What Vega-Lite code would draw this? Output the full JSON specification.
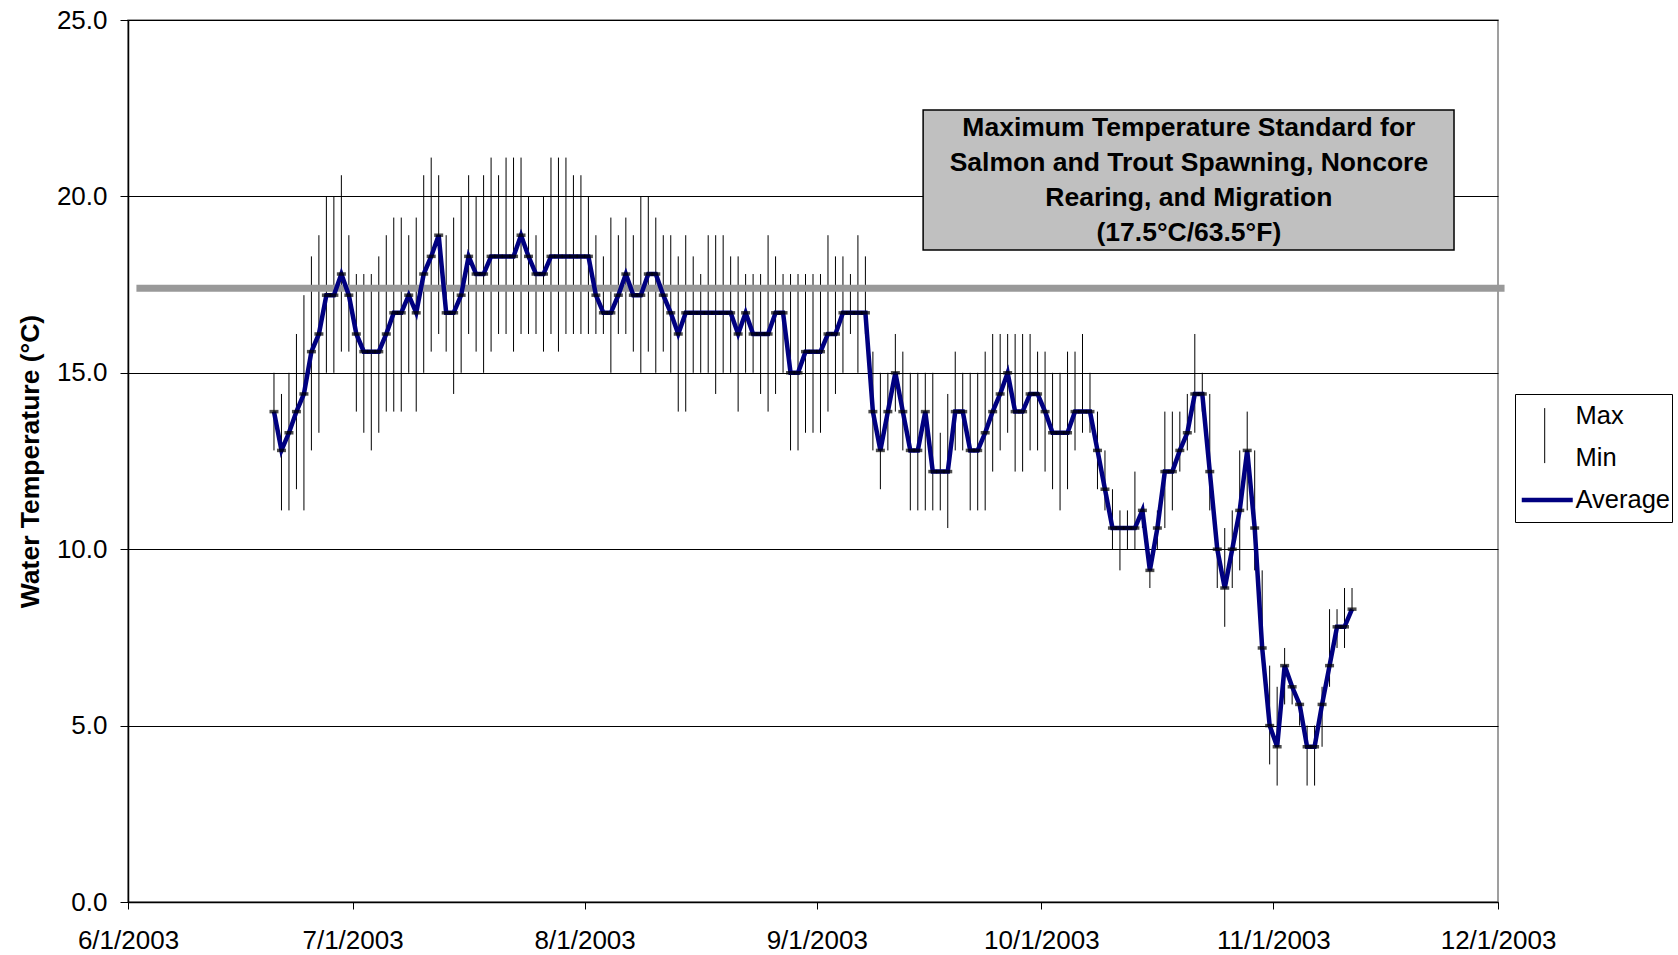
{
  "$schema": "https://vega.github.io/schema/vega-lite/v6.json",
  "width": 1370,
  "height": 882,
  "autosize": {"type": "none"},
  "padding": {"left": 128, "top": 20, "right": 180, "bottom": 53},
  "background": "white",
  "config": {
    "view": {"stroke": "#808080", "strokeWidth": 1.5},
    "font": "Liberation Sans",
    "axis": {
      "labelFont": "Liberation Sans", "labelFontSize": 26, "labelColor": "black",
      "titleFont": "Liberation Sans", "titleColor": "black",
      "tickColor": "black", "domainColor": "black", "domainWidth": 1.5, "tickWidth": 1
    }
  },
  "data": {"values": [
    {"date":"2003/06/20","avg":13.9,"max":15.0,"min":12.8},
    {"date":"2003/06/21","avg":12.8,"max":14.4,"min":11.1},
    {"date":"2003/06/22","avg":13.3,"max":15.0,"min":11.1},
    {"date":"2003/06/23","avg":13.9,"max":16.1,"min":11.7},
    {"date":"2003/06/24","avg":14.4,"max":17.2,"min":11.1},
    {"date":"2003/06/25","avg":15.6,"max":18.3,"min":12.8},
    {"date":"2003/06/26","avg":16.1,"max":18.9,"min":13.3},
    {"date":"2003/06/27","avg":17.2,"max":20.0,"min":15.0},
    {"date":"2003/06/28","avg":17.2,"max":20.0,"min":15.0},
    {"date":"2003/06/29","avg":17.8,"max":20.6,"min":15.6},
    {"date":"2003/06/30","avg":17.2,"max":18.9,"min":15.6},
    {"date":"2003/07/01","avg":16.1,"max":17.8,"min":13.9},
    {"date":"2003/07/02","avg":15.6,"max":17.8,"min":13.3},
    {"date":"2003/07/03","avg":15.6,"max":17.8,"min":12.8},
    {"date":"2003/07/04","avg":15.6,"max":18.3,"min":13.3},
    {"date":"2003/07/05","avg":16.1,"max":18.9,"min":13.9},
    {"date":"2003/07/06","avg":16.7,"max":19.4,"min":13.9},
    {"date":"2003/07/07","avg":16.7,"max":19.4,"min":13.9},
    {"date":"2003/07/08","avg":17.2,"max":18.9,"min":15.0},
    {"date":"2003/07/09","avg":16.7,"max":19.4,"min":13.9},
    {"date":"2003/07/10","avg":17.8,"max":20.6,"min":15.0},
    {"date":"2003/07/11","avg":18.3,"max":21.1,"min":15.6},
    {"date":"2003/07/12","avg":18.9,"max":20.6,"min":16.1},
    {"date":"2003/07/13","avg":16.7,"max":18.9,"min":15.6},
    {"date":"2003/07/14","avg":16.7,"max":19.4,"min":14.4},
    {"date":"2003/07/15","avg":17.2,"max":20.0,"min":15.0},
    {"date":"2003/07/16","avg":18.3,"max":20.6,"min":16.1},
    {"date":"2003/07/17","avg":17.8,"max":20.0,"min":15.6},
    {"date":"2003/07/18","avg":17.8,"max":20.6,"min":15.0},
    {"date":"2003/07/19","avg":18.3,"max":21.1,"min":15.6},
    {"date":"2003/07/20","avg":18.3,"max":20.6,"min":16.1},
    {"date":"2003/07/21","avg":18.3,"max":21.1,"min":16.1},
    {"date":"2003/07/22","avg":18.3,"max":21.1,"min":15.6},
    {"date":"2003/07/23","avg":18.9,"max":21.1,"min":16.1},
    {"date":"2003/07/24","avg":18.3,"max":20.0,"min":16.1},
    {"date":"2003/07/25","avg":17.8,"max":18.9,"min":16.1},
    {"date":"2003/07/26","avg":17.8,"max":20.0,"min":15.6},
    {"date":"2003/07/27","avg":18.3,"max":21.1,"min":16.1},
    {"date":"2003/07/28","avg":18.3,"max":21.1,"min":15.6},
    {"date":"2003/07/29","avg":18.3,"max":21.1,"min":16.1},
    {"date":"2003/07/30","avg":18.3,"max":20.6,"min":16.1},
    {"date":"2003/07/31","avg":18.3,"max":20.6,"min":16.1},
    {"date":"2003/08/01","avg":18.3,"max":20.0,"min":16.1},
    {"date":"2003/08/02","avg":17.2,"max":18.9,"min":16.1},
    {"date":"2003/08/03","avg":16.7,"max":18.3,"min":16.1},
    {"date":"2003/08/04","avg":16.7,"max":19.4,"min":15.0},
    {"date":"2003/08/05","avg":17.2,"max":18.9,"min":16.1},
    {"date":"2003/08/06","avg":17.8,"max":19.4,"min":16.1},
    {"date":"2003/08/07","avg":17.2,"max":18.9,"min":15.6},
    {"date":"2003/08/08","avg":17.2,"max":20.0,"min":15.0},
    {"date":"2003/08/09","avg":17.8,"max":20.0,"min":15.6},
    {"date":"2003/08/10","avg":17.8,"max":19.4,"min":15.0},
    {"date":"2003/08/11","avg":17.2,"max":18.9,"min":15.6},
    {"date":"2003/08/12","avg":16.7,"max":18.9,"min":15.0},
    {"date":"2003/08/13","avg":16.1,"max":18.3,"min":13.9},
    {"date":"2003/08/14","avg":16.7,"max":18.9,"min":13.9},
    {"date":"2003/08/15","avg":16.7,"max":18.3,"min":15.0},
    {"date":"2003/08/16","avg":16.7,"max":17.8,"min":15.0},
    {"date":"2003/08/17","avg":16.7,"max":18.9,"min":15.0},
    {"date":"2003/08/18","avg":16.7,"max":18.9,"min":14.4},
    {"date":"2003/08/19","avg":16.7,"max":18.9,"min":15.0},
    {"date":"2003/08/20","avg":16.7,"max":18.3,"min":15.0},
    {"date":"2003/08/21","avg":16.1,"max":18.3,"min":13.9},
    {"date":"2003/08/22","avg":16.7,"max":17.8,"min":15.0},
    {"date":"2003/08/23","avg":16.1,"max":17.8,"min":15.0},
    {"date":"2003/08/24","avg":16.1,"max":17.8,"min":14.4},
    {"date":"2003/08/25","avg":16.1,"max":18.9,"min":13.9},
    {"date":"2003/08/26","avg":16.7,"max":18.3,"min":14.4},
    {"date":"2003/08/27","avg":16.7,"max":17.8,"min":15.0},
    {"date":"2003/08/28","avg":15.0,"max":17.8,"min":12.8},
    {"date":"2003/08/29","avg":15.0,"max":17.8,"min":12.8},
    {"date":"2003/08/30","avg":15.6,"max":17.8,"min":13.3},
    {"date":"2003/08/31","avg":15.6,"max":17.8,"min":13.3},
    {"date":"2003/09/01","avg":15.6,"max":17.8,"min":13.3},
    {"date":"2003/09/02","avg":16.1,"max":18.9,"min":13.9},
    {"date":"2003/09/03","avg":16.1,"max":18.3,"min":14.4},
    {"date":"2003/09/04","avg":16.7,"max":18.3,"min":15.0},
    {"date":"2003/09/05","avg":16.7,"max":17.8,"min":16.1},
    {"date":"2003/09/06","avg":16.7,"max":18.9,"min":15.0},
    {"date":"2003/09/07","avg":16.7,"max":18.3,"min":16.1},
    {"date":"2003/09/08","avg":13.9,"max":15.6,"min":12.8},
    {"date":"2003/09/09","avg":12.8,"max":15.0,"min":11.7},
    {"date":"2003/09/10","avg":13.9,"max":15.0,"min":12.8},
    {"date":"2003/09/11","avg":15.0,"max":16.1,"min":13.9},
    {"date":"2003/09/12","avg":13.9,"max":15.6,"min":12.8},
    {"date":"2003/09/13","avg":12.8,"max":15.0,"min":11.1},
    {"date":"2003/09/14","avg":12.8,"max":15.0,"min":11.1},
    {"date":"2003/09/15","avg":13.9,"max":15.0,"min":11.1},
    {"date":"2003/09/16","avg":12.2,"max":15.0,"min":11.1},
    {"date":"2003/09/17","avg":12.2,"max":13.3,"min":11.1},
    {"date":"2003/09/18","avg":12.2,"max":14.4,"min":10.6},
    {"date":"2003/09/19","avg":13.9,"max":15.6,"min":12.8},
    {"date":"2003/09/20","avg":13.9,"max":15.0,"min":12.8},
    {"date":"2003/09/21","avg":12.8,"max":15.0,"min":11.1},
    {"date":"2003/09/22","avg":12.8,"max":15.0,"min":11.1},
    {"date":"2003/09/23","avg":13.3,"max":15.6,"min":11.1},
    {"date":"2003/09/24","avg":13.9,"max":16.1,"min":12.2},
    {"date":"2003/09/25","avg":14.4,"max":16.1,"min":12.8},
    {"date":"2003/09/26","avg":15.0,"max":16.1,"min":13.3},
    {"date":"2003/09/27","avg":13.9,"max":16.1,"min":12.2},
    {"date":"2003/09/28","avg":13.9,"max":16.1,"min":12.2},
    {"date":"2003/09/29","avg":14.4,"max":16.1,"min":12.8},
    {"date":"2003/09/30","avg":14.4,"max":15.6,"min":12.8},
    {"date":"2003/10/01","avg":13.9,"max":15.6,"min":12.2},
    {"date":"2003/10/02","avg":13.3,"max":15.0,"min":11.7},
    {"date":"2003/10/03","avg":13.3,"max":15.0,"min":11.1},
    {"date":"2003/10/04","avg":13.3,"max":15.6,"min":11.7},
    {"date":"2003/10/05","avg":13.9,"max":15.6,"min":12.8},
    {"date":"2003/10/06","avg":13.9,"max":16.1,"min":13.3},
    {"date":"2003/10/07","avg":13.9,"max":15.0,"min":13.3},
    {"date":"2003/10/08","avg":12.8,"max":13.9,"min":11.7},
    {"date":"2003/10/09","avg":11.7,"max":12.8,"min":11.1},
    {"date":"2003/10/10","avg":10.6,"max":11.7,"min":10.0},
    {"date":"2003/10/11","avg":10.6,"max":11.1,"min":9.4},
    {"date":"2003/10/12","avg":10.6,"max":11.1,"min":10.0},
    {"date":"2003/10/13","avg":10.6,"max":12.2,"min":10.0},
    {"date":"2003/10/14","avg":11.1,"max":11.1,"min":10.6},
    {"date":"2003/10/15","avg":9.4,"max":9.4,"min":8.9},
    {"date":"2003/10/16","avg":10.6,"max":11.1,"min":10.0},
    {"date":"2003/10/17","avg":12.2,"max":13.9,"min":10.6},
    {"date":"2003/10/18","avg":12.2,"max":13.9,"min":11.1},
    {"date":"2003/10/19","avg":12.8,"max":13.9,"min":12.2},
    {"date":"2003/10/20","avg":13.3,"max":14.4,"min":12.8},
    {"date":"2003/10/21","avg":14.4,"max":16.1,"min":13.3},
    {"date":"2003/10/22","avg":14.4,"max":15.0,"min":13.9},
    {"date":"2003/10/23","avg":12.2,"max":14.4,"min":11.1},
    {"date":"2003/10/24","avg":10.0,"max":10.0,"min":8.9},
    {"date":"2003/10/25","avg":8.9,"max":10.6,"min":7.8},
    {"date":"2003/10/26","avg":10.0,"max":11.1,"min":8.9},
    {"date":"2003/10/27","avg":11.1,"max":12.8,"min":9.4},
    {"date":"2003/10/28","avg":12.8,"max":13.9,"min":11.1},
    {"date":"2003/10/29","avg":10.6,"max":12.8,"min":9.4},
    {"date":"2003/10/30","avg":7.2,"max":9.4,"min":7.2},
    {"date":"2003/10/31","avg":5.0,"max":6.7,"min":3.9},
    {"date":"2003/11/01","avg":4.4,"max":6.1,"min":3.3},
    {"date":"2003/11/02","avg":6.7,"max":7.2,"min":5.6},
    {"date":"2003/11/03","avg":6.1,"max":6.1,"min":5.6},
    {"date":"2003/11/04","avg":5.6,"max":5.6,"min":5.0},
    {"date":"2003/11/05","avg":4.4,"max":5.0,"min":3.3},
    {"date":"2003/11/06","avg":4.4,"max":5.0,"min":3.3},
    {"date":"2003/11/07","avg":5.6,"max":6.1,"min":4.4},
    {"date":"2003/11/08","avg":6.7,"max":8.3,"min":6.1},
    {"date":"2003/11/09","avg":7.8,"max":8.3,"min":7.2},
    {"date":"2003/11/10","avg":7.8,"max":8.9,"min":7.2},
    {"date":"2003/11/11","avg":8.3,"max":8.9,"min":8.3}
  ]},
  "layer": [
    {
      "mark": {"type": "rule", "strokeWidth": 1},
      "encoding": {
        "x": {
          "field": "date", "type": "temporal", "timeUnit": "yearmonthdate", "bandPosition": 0.5,
          "scale": {"domain": [{"year": 2003, "month": "jun", "date": 1}, {"year": 2003, "month": "dec", "date": 1}], "nice": false},
          "axis": {
            "title": null, "grid": false, "format": "%-m/%-d/%Y", "formatType": "time",
            "values": [
              {"year": 2003, "month": "jun", "date": 1}, {"year": 2003, "month": "jul", "date": 1},
              {"year": 2003, "month": "aug", "date": 1}, {"year": 2003, "month": "sep", "date": 1},
              {"year": 2003, "month": "oct", "date": 1}, {"year": 2003, "month": "nov", "date": 1},
              {"year": 2003, "month": "dec", "date": 1}
            ],
            "tickSize": 7, "labelPadding": 18, "labelOverlap": false, "labelFlush": false, "labelBound": false
          }
        },
        "y": {
          "field": "max", "type": "quantitative",
          "scale": {"domain": [0, 25], "nice": false, "zero": true},
          "axis": {
            "title": "Water Temperature (°C)", "titleFontSize": 26.5, "titleFontWeight": "bold", "titlePadding": 12,
            "values": [0, 5, 10, 15, 20, 25], "format": ".1f",
            "grid": true, "gridColor": "black", "gridWidth": 1, "gridOpacity": 1,
            "tickSize": 8, "labelPadding": 13
          }
        },
        "y2": {"field": "min"},
        "color": {
          "datum": "Max",
          "scale": {"domain": ["Max", "Min", "Average"], "range": ["black", "black", "#000080"]},
          "legend": {
            "title": null, "orient": "none", "legendX": 1387, "legendY": 374,
            "labelFont": "Liberation Sans", "labelFontSize": 25.5, "labelColor": "black",
            "symbolType": "stroke", "symbolSize": 2601, "symbolStrokeWidth": 1,
            "strokeColor": "black", "fillColor": "white", "padding": 1,
            "clipHeight": 42, "rowPadding": 0, "symbolOffset": 18.5, "labelOffset": 15.5,
            "encode": {
              "symbols": {
                "update": {
                  "shape": {"signal": "datum.value === 'Average' ? 'M-1,0L1,0' : (datum.value === 'Max' ? 'M-0.1,-0.31L-0.1,0.84' : 'M-0.1,-0.84L-0.1,0.2')"},
                  "strokeWidth": {"signal": "datum.value === 'Average' ? 4.5 : 1"}
                }
              }
            }
          }
        }
      }
    },
    {
      "data": {"values": [{}]},
      "mark": {"type": "rule", "color": "#999999", "strokeWidth": 7},
      "encoding": {
        "x": {"datum": {"year": 2003, "month": "jun", "date": 2, "hours": 3}, "type": "temporal"},
        "x2": {"datum": {"year": 2003, "month": "dec", "date": 1, "hours": 21}},
        "y": {"datum": 17.4, "type": "quantitative"}
      }
    },
    {
      "mark": {"type": "line", "strokeWidth": 4.5},
      "encoding": {
        "x": {"field": "date", "type": "temporal", "timeUnit": "yearmonthdate", "bandPosition": 0.5},
        "y": {"field": "avg", "type": "quantitative"},
        "color": {"datum": "Average"}
      }
    },
    {
      "mark": {"type": "tick", "orient": "horizontal", "size": 9, "thickness": 3.5, "color": "black"},
      "encoding": {
        "x": {"field": "date", "type": "temporal", "timeUnit": "yearmonthdate", "bandPosition": 0.5},
        "y": {"field": "avg", "type": "quantitative"}
      }
    },
    {
      "data": {"values": [{}]},
      "mark": {"type": "rect", "fill": "#c0c0c0", "stroke": "black", "strokeWidth": 1.5},
      "encoding": {
        "x": {"datum": {"year": 2003, "month": "sep", "date": 15, "hours": 5}, "type": "temporal"},
        "x2": {"datum": {"year": 2003, "month": "nov", "date": 25, "hours": 3}},
        "y": {"datum": 22.45, "type": "quantitative"},
        "y2": {"datum": 18.48}
      }
    },
    {
      "data": {"values": [{}]},
      "mark": {"type": "text", "font": "Liberation Sans", "fontWeight": "bold", "fontSize": 26.5, "lineHeight": 34.8, "align": "center", "baseline": "middle", "color": "black"},
      "encoding": {
        "x": {"datum": {"year": 2003, "month": "oct", "date": 20, "hours": 17}, "type": "temporal"},
        "y": {"datum": 21.93, "type": "quantitative"},
        "text": {"value": ["Maximum Temperature Standard for", "Salmon and Trout Spawning, Noncore", "Rearing, and Migration", "(17.5°C/63.5°F)"]}
      }
    }
  ]
}
